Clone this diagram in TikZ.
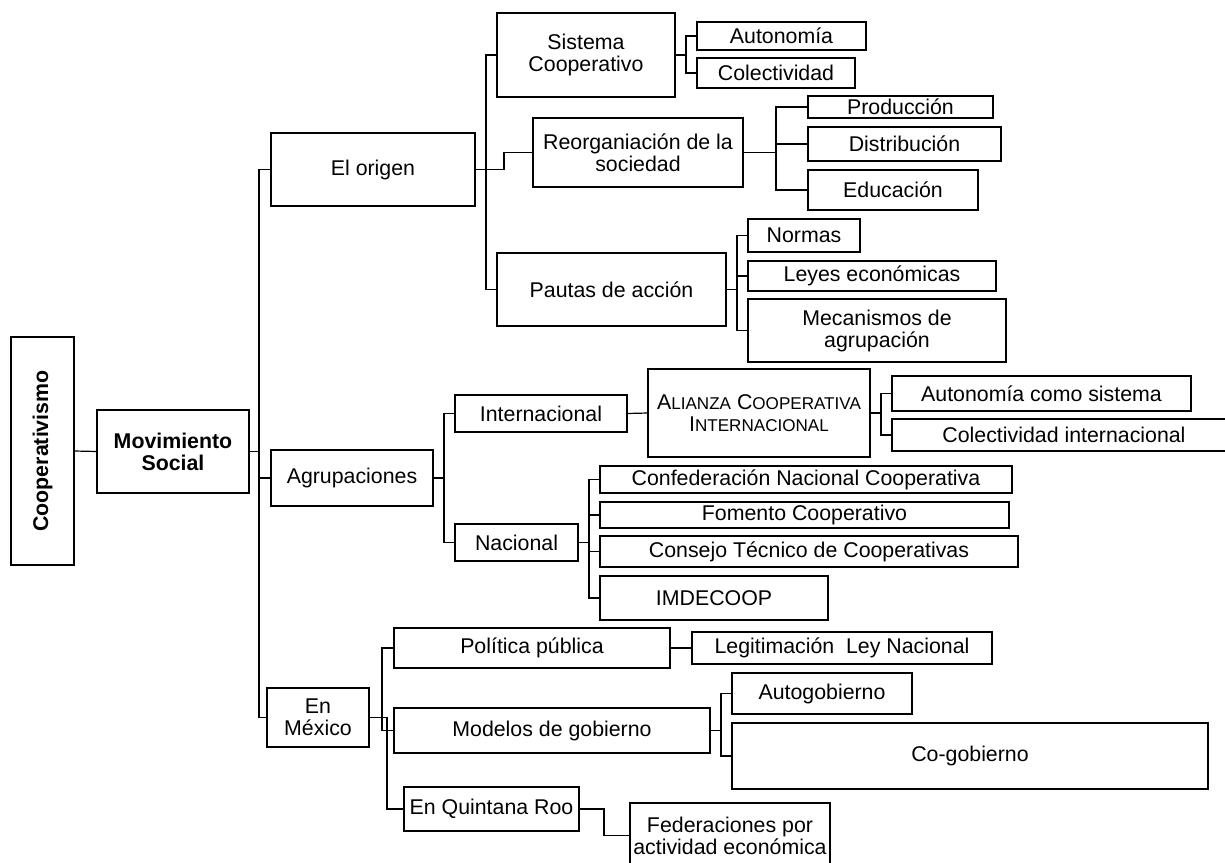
\documentclass[tikz,border=0pt]{standalone}
\usepackage{fontspec}
\usepackage{graphicx}
\setmainfont{Liberation Sans}
\newcommand\fsc[2]{#1{\fontsize{12.8pt}{15pt}\selectfont #2}}
\tikzset{
  bx/.style={draw, line width=0.9pt, inner sep=0pt, outer sep=0pt, align=center,
    font=\fontsize{16pt}{16.5pt}\selectfont},
  ln/.style={draw, line width=0.9pt}
}
\newcommand\bxn[6]{\node[bx, minimum width={(#4-#2)*0.75pt}, minimum height={(#5-#3)*0.75pt}] (#1) at ({(#2+#4)/2},{(#3+#5)/2}) {#6};}
\begin{document}
\begin{tikzpicture}[x=0.75pt,y=-0.75pt]
\path[use as bounding box] (0,0) rectangle (1225,863);
\clip (0,0) rectangle (1225,863);
% level 0/1
\bxn{coop}{11}{337}{74}{565}{\rotatebox{90}{\bfseries Cooperativismo}}
\bxn{mov}{97}{410}{249}{493}{\bfseries Movimiento\\\bfseries Social}
% level 2
\bxn{origen}{271}{133}{475}{206}{El origen}
\bxn{agrup}{271}{450}{433}{506}{Agrupaciones}
\bxn{mexico}{267}{688}{369}{747}{En\\México}
% El origen children
\bxn{sistema}{497}{13}{675}{97}{Sistema\\Cooperativo}
\bxn{reorg}{533}{118}{743}{187}{Reorganiación de la\\sociedad}
\bxn{pautas}{497}{253}{726}{326}{Pautas de acción}
\bxn{auton}{697}{22}{866}{50}{Autonomía}
\bxn{colec}{697}{58}{855}{88}{Colectividad}
\bxn{prod}{808}{96}{993}{118}{Producción}
\bxn{dist}{808}{127}{1001}{161}{Distribución}
\bxn{educ}{808}{170}{978}{210}{Educación}
\bxn{normas}{748}{219}{860}{252}{Normas}
\bxn{leyes}{748}{261}{996}{291}{Leyes económicas}
\bxn{meca}{748}{299}{1006}{362}{Mecanismos de\\agrupación}
% Agrupaciones children
\bxn{intl}{455}{395}{627}{432}{Internacional}
\bxn{nac}{455}{524}{578}{561}{Nacional}
\bxn{alianza}{648}{369}{870}{457}{\fsc{A}{LIANZA} \fsc{C}{OOPERATIVA}\\\fsc{I}{NTERNACIONAL}}
\bxn{autsis}{892}{376}{1191}{411}{Autonomía como sistema}
\bxn{colint}{892}{419}{1236}{451}{Colectividad internacional}
\bxn{confed}{600}{466}{1012}{493}{Confederación Nacional Cooperativa}
\bxn{fomento}{600}{502}{1009}{528}{Fomento Cooperativo}
\bxn{consejo}{600}{536}{1018}{567}{Consejo Técnico de Cooperativas}
\bxn{imde}{600}{576}{828}{620}{IMDECOOP}
% En Mexico children
\bxn{politica}{394}{628}{670}{668}{Política pública}
\bxn{modelos}{394}{708}{710}{753}{Modelos de gobierno}
\bxn{qroo}{404}{787}{579}{831}{En Quintana Roo}
\bxn{legit}{692}{632}{992}{664}{Legitimación\ \ Ley Nacional}
\bxn{autog}{732}{673}{912}{714}{Autogobierno}
\bxn{cogob}{732}{723}{1208}{789}{Co-gobierno}
\bxn{feder}{630}{803}{830}{868}{Federaciones por\\actividad económica}
% connectors
\coordinate (tr) at (259,0);
\coordinate (o1) at (504,0);
\path[ln] (coop.east) -- (mov.west);
\path[ln] (mov.east) -- (mov.east -| tr);
\path[ln] (origen.west) -- (origen.west -| tr) |- (mexico.west);
\path[ln] (agrup.west) -- (agrup.west -| tr);
% El origen
\path[ln] (sistema.west) -- ++(-11,0) |- (pautas.west);
\path[ln] (origen.east) -- (origen.east -| o1) |- (reorg.west);
\path[ln] (sistema.east) -- ++(11,0);
\path[ln] (auton.west) -- ++(-11,0) |- (colec.west);
\path[ln] (reorg.east) -- ++(33,0);
\path[ln] (prod.west) -- ++(-32,0) |- (educ.west);
\path[ln] (dist.west) -- ++(-32,0);
\path[ln] (pautas.east) -- ++(11,0);
\path[ln] (normas.west) -- ++(-11,0) |- (meca.west);
\path[ln] (leyes.west) -- ++(-11,0);
% Agrupaciones
\path[ln] (agrup.east) -- ++(11,0);
\path[ln] (intl.west) -- ++(-11,0) |- (nac.west);
\path[ln] (intl.east) -- (alianza.west);
\path[ln] (alianza.east) -- ++(11,0);
\path[ln] (autsis.west) -- ++(-11,0) |- (colint.west);
\path[ln] (nac.east) -- ++(11,0);
\path[ln] (confed.west) -- ++(-11,0) |- (imde.west);
\path[ln] (fomento.west) -- ++(-11,0);
\path[ln] (consejo.west) -- ++(-11,0);
% En Mexico
\path[ln] (mexico.east) -- ++(18,0) |- (qroo.west);
\path[ln] (politica.west) -- ++(-12,0) |- (modelos.west);
\path[ln] (politica.east) -- (legit.west);
\path[ln] (modelos.east) -- ++(11,0);
\path[ln] (autog.west) -- ++(-11,0) |- (cogob.west);
\path[ln] (qroo.east) -- ++(25,0) |- (feder.west);
\end{tikzpicture}
\end{document}
